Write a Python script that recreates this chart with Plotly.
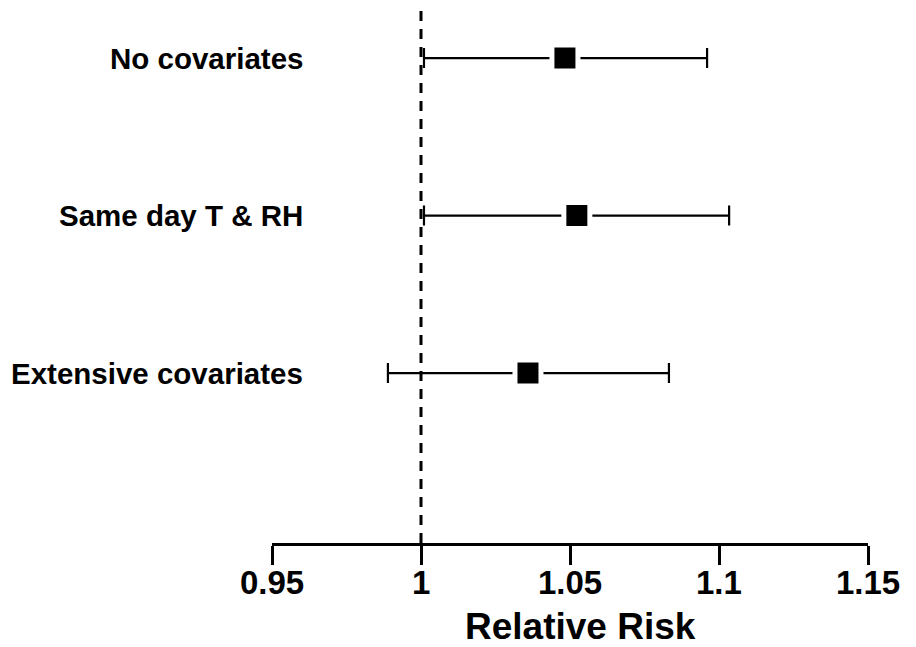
import plotly.graph_objects as go

labels = ["No covariates", "Same day T & RH", "Extensive covariates"]
row_pos = [3, 2, 1]
rr = [1.0483, 1.0523, 1.0359]
lower = [1.001, 1.001, 0.9889]
upper = [1.096, 1.1034, 1.0832]
x_ticks = [0.95, 1.0, 1.05, 1.1, 1.15]
x_ticktext = ["0.95", "1", "1.05", "1.1", "1.15"]
null_value = 1.0

FONT = "Liberation Sans, Arial, Helvetica, sans-serif"

fig = go.Figure()
fig.add_trace(go.Scatter(
    x=rr, y=row_pos, mode="markers",
    marker=dict(symbol="square", size=26, color="black",
                line=dict(color="white", width=5)),
    error_x=dict(type="data", symmetric=False,
                 array=[u - r for u, r in zip(upper, rr)],
                 arrayminus=[r - l for r, l in zip(rr, lower)],
                 color="black", thickness=2.2, width=10),
    showlegend=False, cliponaxis=False,
))

fig.add_shape(type="line", xref="x", yref="paper", x0=null_value, x1=null_value,
              y0=0, y1=1, line=dict(color="black", width=3, dash="10px,8px"), layer="below")

for lab, yp in zip(labels, row_pos):
    fig.add_annotation(x=0.9611, y=yp, xref="x", yref="y", text=lab, showarrow=False,
                       xanchor="right", yanchor="middle",
                       font=dict(family=FONT, size=29.5, color="black", weight="bold"))

for tv, tt in zip(x_ticks, x_ticktext):
    fig.add_annotation(x=tv, y=-0.074, xref="x", yref="paper", text=tt, showarrow=False,
                       xanchor="center", yanchor="middle",
                       font=dict(family=FONT, size=33, color="black", weight="bold"))

fig.add_annotation(x=0.518, y=-0.156, xref="paper", yref="paper", text="Relative Risk",
                   showarrow=False, xanchor="center", yanchor="middle",
                   font=dict(family=FONT, size=37, color="black", weight="bold"))

fig.update_layout(
    width=916, height=647,
    margin=dict(l=264, r=56, t=2, b=112),
    paper_bgcolor="white", plot_bgcolor="white",
    xaxis=dict(range=[0.95, 1.15], tickvals=x_ticks,
               showgrid=False, zeroline=False, showline=True, linecolor="black", linewidth=2.5,
               ticks="outside", ticklen=19, tickwidth=2.5, tickcolor="black",
               showticklabels=False),
    yaxis=dict(range=[-0.079, 3.305], showgrid=False, zeroline=False, showline=False,
               showticklabels=False, ticks=""),
)

fig.write_html("out.html")
